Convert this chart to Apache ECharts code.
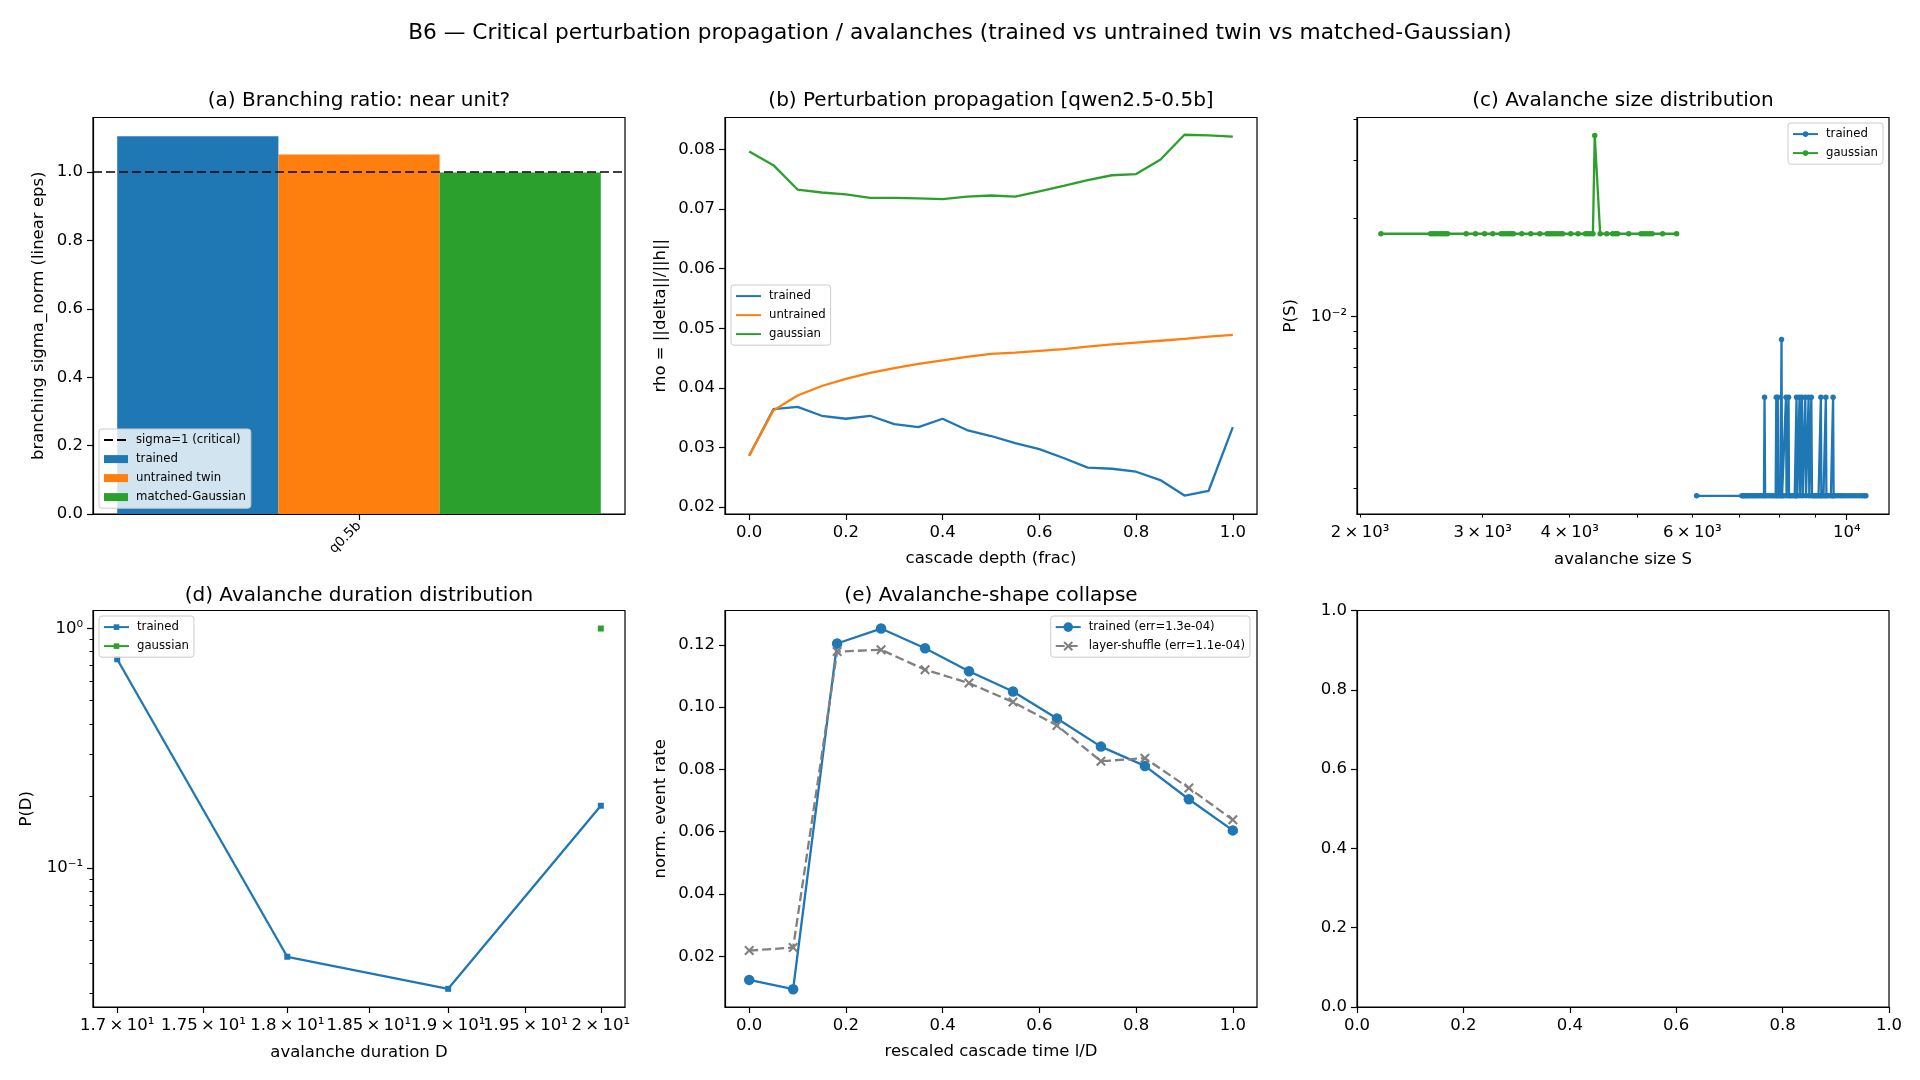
<!DOCTYPE html>
<html lang="en">
<head>
  <meta charset="UTF-8">
  <title>B6 avalanches</title>
  <style>
    html, body { margin: 0; padding: 0; background: #fff; }
    #chart { width: 1920px; height: 1080px; }
  </style>
  <script src="https://cdn.jsdelivr.net/npm/echarts@6.0.0/dist/echarts.min.js"></script>
</head>
<body>
  <div id="chart"></div>
<script>
  // ---------- data ----------
  // (a) branching ratio
  const aCategories = ['q0.5b'];
  const aTrained = [1.105];
  const aUntrained = [1.052];
  const aGaussian = [0.999];
  const aCritical = 1.0;

  // (b) perturbation propagation
  const bDepth = [0, 0.05, 0.1, 0.15, 0.2, 0.25, 0.3, 0.35, 0.4, 0.45, 0.5,
                  0.55, 0.6, 0.65, 0.7, 0.75, 0.8, 0.85, 0.9, 0.95, 1.0];
  const bTrained = [0.0286, 0.0364, 0.0368, 0.0353, 0.0348, 0.0353, 0.0339, 0.0334, 0.0348, 0.0329, 0.0319,
                    0.0307, 0.0297, 0.0282, 0.0266, 0.0264, 0.0259, 0.0245, 0.0219, 0.0227, 0.0334];
  const bUntrained = [0.0286, 0.0362, 0.0387, 0.0403, 0.0415, 0.0425, 0.0433, 0.0440, 0.0446, 0.0452, 0.0457,
                      0.0459, 0.0462, 0.0465, 0.0469, 0.0473, 0.0476, 0.0479, 0.0482, 0.0486, 0.0489];
  const bGaussian = [0.0797, 0.0774, 0.0733, 0.0728, 0.0725, 0.0719, 0.0719, 0.0718, 0.0717, 0.0721, 0.0723,
                     0.0721, 0.0730, 0.0739, 0.0749, 0.0757, 0.0759, 0.0783, 0.0825, 0.0824, 0.0822];

  // (c) avalanche size distribution
  const cTrainedS = [6087, 7071, 7105, 7140, 7180, 7220, 7265, 7310, 7355, 7400,
                     7450, 7500, 7550, 7605, 7620, 7635, 7690, 7745, 7800, 7850,
                     7905, 7922, 7935, 7965, 7980, 8035, 8060, 8075, 8120, 8180,
                     8195, 8250, 8262, 8300, 8360, 8420, 8455, 8470, 8490, 8555,
                     8570, 8625, 8645, 8720, 8740, 8815, 8835, 8895, 8915, 8960,
                     9010, 9060, 9110, 9165, 9180, 9195, 9260, 9320, 9333, 9350,
                     9420, 9490, 9545, 9559, 9575, 9640, 9720, 9800, 9880, 9960,
                     10050, 10140, 10230, 10320, 10420, 10520, 10600, 10652];
  const cTrainedP = [0.00284, 0.00284, 0.00284, 0.00284, 0.00284, 0.00284, 0.00284, 0.00284, 0.00284, 0.00284,
                     0.00284, 0.00284, 0.00284, 0.00284, 0.00568, 0.00284, 0.00284, 0.00284, 0.00284, 0.00284,
                     0.00284, 0.00568, 0.00284, 0.00568, 0.00284, 0.00284, 0.00852, 0.00284, 0.00284, 0.00568,
                     0.00284, 0.00568, 0.00284, 0.00284, 0.00284, 0.00284, 0.00284, 0.00568, 0.00284, 0.00568,
                     0.00284, 0.00568, 0.00284, 0.00568, 0.00284, 0.00568, 0.00284, 0.00568, 0.00284, 0.00284,
                     0.00284, 0.00284, 0.00284, 0.00284, 0.00568, 0.00284, 0.00284, 0.00284, 0.00568, 0.00284,
                     0.00284, 0.00284, 0.00284, 0.00568, 0.00284, 0.00284, 0.00284, 0.00284, 0.00284, 0.00284,
                     0.00284, 0.00284, 0.00284, 0.00284, 0.00284, 0.00284, 0.00284, 0.00284];
  const cGaussS = [2143, 2526, 2545, 2565, 2588, 2611, 2630, 2651, 2671, 2841,
                   2930, 3019, 3102, 3189, 3214, 3242, 3270, 3296, 3321, 3414,
                   3517, 3624, 3713, 3742, 3775, 3807, 3841, 3876, 3909, 4014,
                   4113, 4214, 4246, 4280, 4320, 4346, 4425, 4523, 4611, 4652,
                   4688, 4862, 5066, 5110, 5155, 5206, 5253, 5440, 5697];
  const cGaussP = [0.0179, 0.0179, 0.0179, 0.0179, 0.0179, 0.0179, 0.0179, 0.0179, 0.0179, 0.0179,
                   0.0179, 0.0179, 0.0179, 0.0179, 0.0179, 0.0179, 0.0179, 0.0179, 0.0179, 0.0179,
                   0.0179, 0.0179, 0.0179, 0.0179, 0.0179, 0.0179, 0.0179, 0.0179, 0.0179, 0.0179,
                   0.0179, 0.0179, 0.0179, 0.0179, 0.0179, 0.0357, 0.0179, 0.0179, 0.0179, 0.0179,
                   0.0179, 0.0179, 0.0179, 0.0179, 0.0179, 0.0179, 0.0179, 0.0179, 0.0179];

  // (d) avalanche duration distribution
  const dDuration = [17, 18, 19, 20];
  const dTrainedP = [0.744, 0.0426, 0.0313, 0.182];
  const dGaussD = [20];
  const dGaussP = [1.0];

  // (e) avalanche-shape collapse
  const eTime = [0, 0.0909, 0.1818, 0.2727, 0.3636, 0.4545, 0.5455, 0.6364, 0.7273, 0.8182, 0.9091, 1.0];
  const eTrained = [0.0124, 0.0094, 0.1204, 0.1252, 0.1189, 0.1115, 0.1050, 0.0963, 0.0873, 0.0811, 0.0704, 0.0604];
  const eShuffle = [0.0218, 0.0228, 0.1178, 0.1184, 0.1120, 0.1077, 0.1016, 0.0941, 0.0826, 0.0836, 0.0740, 0.0638];

  // ticks / tick labels
  const ticks01 = [0, 0.2, 0.4, 0.6, 0.8, 1.0];
  const bYTicks = [0.02, 0.03, 0.04, 0.05, 0.06, 0.07, 0.08];
  const eYTicks = [0.02, 0.04, 0.06, 0.08, 0.10, 0.12];
  const cXTicks = [10000];
  const cXMinor = [2000, 3000, 4000, 5000, 6000, 7000, 8000, 9000];
  const cXLabelVals = [2000, 3000, 4000, 6000, 10000];
  const cXLabels = ['2\u2009×\u200910³', '3\u2009×\u200910³', '4\u2009×\u200910³', '6\u2009×\u200910³', '10⁴'];
  const cYTicks = [0.01];
  const cYLabels = ['10⁻²'];
  const cYMinor = [0.003, 0.004, 0.005, 0.006, 0.007, 0.008, 0.009, 0.02, 0.03, 0.04];
  const dXTicks = [17, 17.5, 18, 18.5, 19, 19.5, 20];
  const dXLabels = ['1.7\u2009×\u200910¹', '1.75\u2009×\u200910¹', '1.8\u2009×\u200910¹', '1.85\u2009×\u200910¹',
                    '1.9\u2009×\u200910¹', '1.95\u2009×\u200910¹', '2\u2009×\u200910¹'];
  const dYTicks = [0.1, 1];
  const dYLabels = ['10⁻¹', '10⁰'];
  const dYMinor = [0.03, 0.04, 0.05, 0.06, 0.07, 0.08, 0.09, 0.2, 0.3, 0.4, 0.5, 0.6, 0.7, 0.8, 0.9];

  // ---------- styling helpers ----------
  const BLUE = '#1f77b4', ORANGE = '#ff7f0e', GREEN = '#2ca02c', GRAY = '#808080';
  const FONT = 'DejaVu Sans';
  const XMARK = 'path://M1.5,0L5,3.5L8.5,0L10,1.5L6.5,5L10,8.5L8.5,10L5,6.5L1.5,10L0,8.5L3.5,5L0,1.5Z';

  const legendText = {
    a_sigma: 'sigma=1 (critical)', a_trained: 'trained', a_untrained: 'untrained twin', a_gauss: 'matched-Gaussian',
    b_trained: 'trained', b_untrained: 'untrained', b_gauss: 'gaussian',
    c_trained: 'trained', c_gauss: 'gaussian',
    d_trained: 'trained', d_gauss: 'gaussian',
    e_trained: 'trained (err=1.3e-04)', e_shuffle: 'layer-shuffle (err=1.1e-04)'
  };

  function zip(xs, ys) { return xs.map((x, i) => [x, ys[i]]); }
  function fixedFmt(d) { return v => Number(v).toFixed(d); }
  function lookupFmt(vals, labels) {
    return function (v) {
      for (let i = 0; i < vals.length; i++) {
        if (Math.abs(v - vals[i]) <= Math.abs(vals[i]) * 1e-6 + 1e-12) return labels[i];
      }
      return '';
    };
  }

  // axis with ticks/labels at given values
  function axis(grid, type, min, max, tickVals, labelVals, fmt, extra) {
    const a = {
      gridIndex: grid, type: type, min: min, max: max,
      axisLine: { show: true, onZero: false, lineStyle: { color: '#000', width: 1.2 } },
      axisTick: { show: true, length: 6, lineStyle: { color: '#000', width: 1.2 }, customValues: tickVals },
      axisLabel: { show: true, customValues: labelVals, formatter: fmt, color: '#000',
                   fontFamily: FONT, fontSize: 16.5, margin: 10, hideOverlap: false },
      splitLine: { show: false },
      nameLocation: 'middle',
      nameTextStyle: { color: '#000', fontFamily: FONT, fontSize: 16.5 }
    };
    if (type === 'log') a.logBase = 10;
    return Object.assign(a, extra || {});
  }
  // extra axis that only draws the short minor ticks
  function minorAxis(grid, min, max, ticks, pos) {
    return {
      gridIndex: grid, type: 'log', logBase: 10, min: min, max: max, position: pos,
      axisLine: { show: false },
      axisTick: { show: true, length: 3.5, lineStyle: { color: '#000', width: 1 }, customValues: ticks },
      axisLabel: { show: false }, splitLine: { show: false }
    };
  }
  function legendBox(pos, data, itemW, itemH) {
    return Object.assign({
      orient: 'vertical', data: data, selectedMode: false,
      formatter: n => legendText[n],
      itemWidth: itemW, itemHeight: itemH, itemGap: 4.8,
      padding: [4, 5, 4, 4],
      backgroundColor: 'rgba(255,255,255,0.8)', borderColor: '#cccccc', borderWidth: 1, borderRadius: 3,
      textStyle: { color: '#000', fontFamily: FONT, fontSize: 11.7, lineHeight: 14.2, padding: [0, 0, 0, 3] }
    }, pos);
  }
  function title(text, x, y, size) {
    return {
      text: text, left: x, top: y, textAlign: 'center', textVerticalAlign: 'middle', padding: 0,
      textStyle: { color: '#000', fontFamily: FONT, fontSize: size || 20, fontWeight: 'normal' }
    };
  }
  function grid(l, t) {
    return { left: l, top: t, width: 532, height: 396.5, show: true, borderColor: '#000', borderWidth: 1.2,
             backgroundColor: 'transparent', containLabel: false, outerBoundsMode: 'none' };
  }
  function lineSeries(name, xi, yi, data, color, extra) {
    return Object.assign({
      name: name, type: 'line', xAxisIndex: xi, yAxisIndex: yi, data: data,
      color: color, itemStyle: { color: color }, lineStyle: { color: color, width: 2.3 },
      symbol: 'none', showSymbol: true, animation: false, silent: true
    }, extra || {});
  }

  const myChart = echarts.init(document.getElementById('chart'));

  const option = {
    animation: false,
    backgroundColor: '#fff',
    title: [
      title('B6 — Critical perturbation propagation / avalanches (trained vs untrained twin vs matched-Gaussian)', 960, 33.5, 21.7),
      title('(a) Branching ratio: near unit?', 359, 101),
      title('(b) Perturbation propagation [qwen2.5-0.5b]', 991, 101),
      title('(c) Avalanche size distribution', 1623, 101),
      title('(d) Avalanche duration distribution', 359, 596),
      title('(e) Avalanche-shape collapse', 991, 596)
    ],
    grid: [
      grid(93, 117.5), grid(725, 117.5), grid(1357, 117.5),
      grid(93, 610.5), grid(725, 610.5), grid(1357, 610.5)
    ],
    xAxis: [
      // (a)
      {
        gridIndex: 0, type: 'category', data: aCategories, position: 'bottom',
        axisLine: { show: true, onZero: false, lineStyle: { color: '#000', width: 1.2 } },
        axisTick: { show: true, length: 6, alignWithLabel: true, lineStyle: { color: '#000', width: 1.2 } },
        axisLabel: { rotate: 45, color: '#000', fontFamily: FONT, fontSize: 13.5, margin: 10 },
        splitLine: { show: false }
      },
      // (b)
      axis(1, 'value', -0.05, 1.05, ticks01, ticks01, fixedFmt(1),
           { position: 'bottom', name: 'cascade depth (frac)', nameGap: 36 }),
      // (c)
      axis(2, 'log', 1980, 11500, cXTicks, cXLabelVals, lookupFmt(cXLabelVals, cXLabels),
           { position: 'bottom', name: 'avalanche size S', nameGap: 37 }),
      minorAxis(2, 1980, 11500, cXMinor, 'bottom'),
      // (d)
      axis(3, 'log', 16.8624, 20.1632, dXTicks, dXTicks, lookupFmt(dXTicks, dXLabels),
           { position: 'bottom', name: 'avalanche duration D', nameGap: 37 }),
      // (e)
      axis(4, 'value', -0.05, 1.05, ticks01, ticks01, fixedFmt(1),
           { position: 'bottom', name: 'rescaled cascade time l/D', nameGap: 36 }),
      // (f) empty
      axis(5, 'value', 0, 1, ticks01, ticks01, fixedFmt(1), { position: 'bottom' })
    ],
    yAxis: [
      axis(0, 'value', 0, 1.16, ticks01, ticks01, fixedFmt(1),
           { position: 'left', name: 'branching sigma_norm (linear eps)', nameGap: 46 }),
      axis(1, 'value', 0.0188, 0.0854, bYTicks, bYTicks, fixedFmt(2),
           { position: 'left', name: 'rho = ||delta||/||h||', nameGap: 56 }),
      axis(2, 'log', 0.0025, 0.0405, cYTicks, cYTicks, lookupFmt(cYTicks, cYLabels),
           { position: 'left', name: 'P(S)', nameGap: 58 }),
      minorAxis(2, 0.0025, 0.0405, cYMinor, 'left'),
      axis(3, 'log', 0.02628, 1.1893, dYTicks, dYTicks, lookupFmt(dYTicks, dYLabels),
           { position: 'left', name: 'P(D)', nameGap: 58 }),
      minorAxis(3, 0.02628, 1.1893, dYMinor, 'left'),
      axis(4, 'value', 0.0037, 0.1310, eYTicks, eYTicks, fixedFmt(2),
           { position: 'left', name: 'norm. event rate', nameGap: 56 }),
      axis(5, 'value', 0, 1, ticks01, ticks01, fixedFmt(1), { position: 'left' })
    ],
    legend: [
      legendBox({ left: 99, top: 429 }, [
        { name: 'a_sigma', itemStyle: { opacity: 0 } },
        { name: 'a_trained', icon: 'rect' },
        { name: 'a_untrained', icon: 'rect' },
        { name: 'a_gauss', icon: 'rect' }
      ], 24, 8),
      legendBox({ left: 731, top: 285 }, [
        { name: 'b_trained', itemStyle: { opacity: 0 } },
        { name: 'b_untrained', itemStyle: { opacity: 0 } },
        { name: 'b_gauss', itemStyle: { opacity: 0 } }
      ], 25, 8),
      legendBox({ right: 37, top: 123 }, ['c_trained', 'c_gauss'], 25, 7),
      legendBox({ left: 99, top: 616 }, ['d_trained', 'd_gauss'], 25, 7),
      legendBox({ right: 670, top: 616 }, ['e_trained', 'e_shuffle'], 25, 12)
    ],
    series: [
      // (a) bars
      { name: 'a_trained', type: 'bar', xAxisIndex: 0, yAxisIndex: 0, data: aTrained,
        itemStyle: { color: BLUE }, barGap: '0%', barCategoryGap: '9.1%', silent: true },
      { name: 'a_untrained', type: 'bar', xAxisIndex: 0, yAxisIndex: 0, data: aUntrained,
        itemStyle: { color: ORANGE }, barGap: '0%', barCategoryGap: '9.1%', silent: true },
      { name: 'a_gauss', type: 'bar', xAxisIndex: 0, yAxisIndex: 0, data: aGaussian,
        itemStyle: { color: GREEN }, barGap: '0%', barCategoryGap: '9.1%', silent: true },
      lineSeries('a_sigma', 0, 0, [], '#000', {
        lineStyle: { color: '#000', width: 1.6, type: [9, 4] }, z: 10,
        markLine: {
          silent: true, symbol: ['none', 'none'], label: { show: false }, animation: false,
          lineStyle: { color: '#000', width: 1.6, type: [9, 4] },
          data: [{ yAxis: aCritical }]
        }
      }),
      // (b)
      lineSeries('b_trained', 1, 1, zip(bDepth, bTrained), BLUE),
      lineSeries('b_untrained', 1, 1, zip(bDepth, bUntrained), ORANGE),
      lineSeries('b_gauss', 1, 1, zip(bDepth, bGaussian), GREEN),
      // (c)
      lineSeries('c_trained', 2, 2, zip(cTrainedS, cTrainedP), BLUE, { symbol: 'circle', symbolSize: 5.5 }),
      lineSeries('c_gauss', 2, 2, zip(cGaussS, cGaussP), GREEN, { symbol: 'circle', symbolSize: 5.5 }),
      // (d)
      lineSeries('d_trained', 4, 4, zip(dDuration, dTrainedP), BLUE, { symbol: 'rect', symbolSize: 6 }),
      lineSeries('d_gauss', 4, 4, zip(dGaussD, dGaussP), GREEN, { symbol: 'rect', symbolSize: 6 }),
      // (e)
      lineSeries('e_trained', 5, 6, zip(eTime, eTrained), BLUE, { symbol: 'circle', symbolSize: 10.5, z: 3 }),
      lineSeries('e_shuffle', 5, 6, zip(eTime, eShuffle), GRAY, {
        symbol: XMARK, symbolSize: 10, z: 4,
        lineStyle: { color: GRAY, width: 2.3, type: [9, 4] }
      })
    ]
  };

  myChart.setOption(option);
</script>
</body>
</html>
